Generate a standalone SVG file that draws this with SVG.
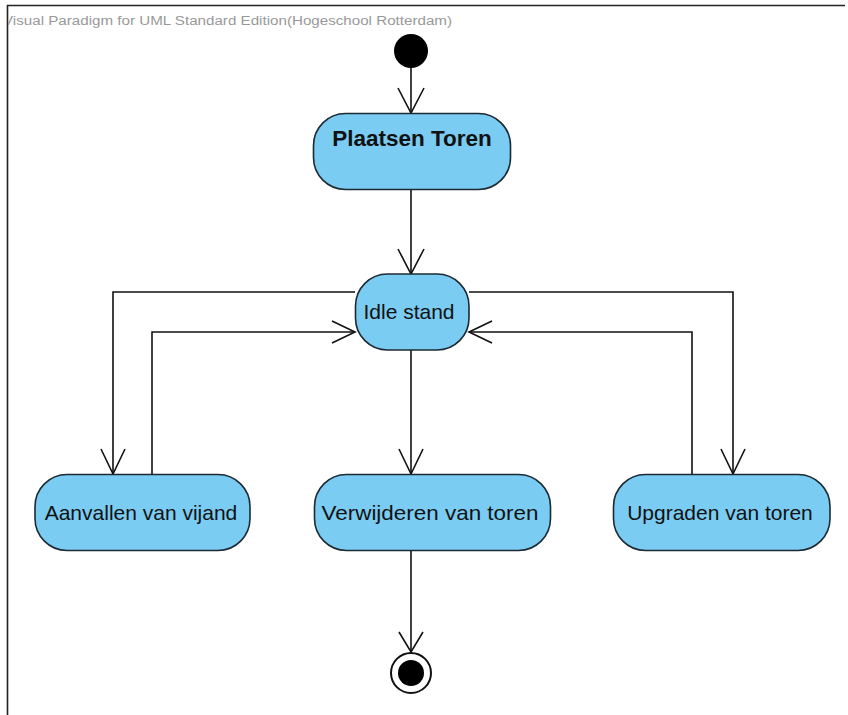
<svg xmlns="http://www.w3.org/2000/svg" width="848" height="715" viewBox="0 0 848 715">
<defs>
<style>
.node rect{fill:#7accf3;stroke:#1c2a33;stroke-width:1.6}
.lbl{font-family:"Liberation Sans",Arial,sans-serif;font-size:21px;fill:#111;text-anchor:middle}
.bold{font-weight:bold;font-size:22.5px}
.conn path{fill:none;stroke:#111;stroke-width:1.6}
.head{fill:none;stroke:#111;stroke-width:1.6}
</style>
<clipPath id="fr"><rect x="8" y="0" width="840" height="715"/></clipPath>
</defs>
<rect x="0" y="0" width="848" height="715" fill="#ffffff"/>
<g id="frame">
<path d="M7.5,715 V5.5 H845" fill="none" stroke="#222" stroke-width="1.6"/>
<text x="3" y="25" clip-path="url(#fr)" font-family="Liberation Sans,Arial,sans-serif" font-size="12.5" fill="#999" textLength="449" lengthAdjust="spacingAndGlyphs">Visual Paradigm for UML Standard Edition(Hogeschool Rotterdam)</text>
</g>
<g id="connectors" class="conn">
<path d="M411,68 V113"/>
<path class="head" d="M398,88 L411,113 L424,88"/>
<path d="M411,190 V274"/>
<path class="head" d="M398,249 L411,274 L424,249"/>
<path d="M355,292 H113 V474"/>
<path class="head" d="M101,449 L113,474 L125,449"/>
<path d="M152,474 V332 H355"/>
<path class="head" d="M332,321 L355,332 L332,343"/>
<path d="M469,292 H733 V474"/>
<path class="head" d="M721,449 L733,474 L745,449"/>
<path d="M692,474 V332 H469"/>
<path class="head" d="M492,321 L469,332 L492,343"/>
<path d="M411,350 V474"/>
<path class="head" d="M399,449 L411,474 L423,449"/>
<path d="M411,551 V652"/>
<path class="head" d="M399,632 L411,652 L423,632"/>
</g>
<g id="start"><circle cx="411" cy="51" r="17" fill="#000"/></g>
<g id="plaatsen" class="node"><rect x="313.5" y="113.5" width="197" height="76" rx="32"/><text class="lbl bold" x="412" y="146">Plaatsen Toren</text></g>
<g id="idle" class="node"><rect x="355.5" y="274" width="113.5" height="76" rx="32"/><text class="lbl" x="409" y="319">Idle stand</text></g>
<g id="aanvallen" class="node"><rect x="35" y="474.5" width="215" height="76" rx="32"/><text class="lbl" x="141" y="520">Aanvallen van vijand</text></g>
<g id="verwijderen" class="node"><rect x="314.5" y="474.5" width="236" height="76" rx="32"/><text class="lbl" x="430" y="520" textLength="217" lengthAdjust="spacingAndGlyphs">Verwijderen van toren</text></g>
<g id="upgraden" class="node"><rect x="613.5" y="474.5" width="216.5" height="76" rx="32"/><text class="lbl" x="720" y="520">Upgraden van toren</text></g>
<g id="end"><circle cx="411" cy="673" r="20" fill="#fff" stroke="#111" stroke-width="2"/><circle cx="411" cy="673" r="13" fill="#000"/></g>
</svg>
